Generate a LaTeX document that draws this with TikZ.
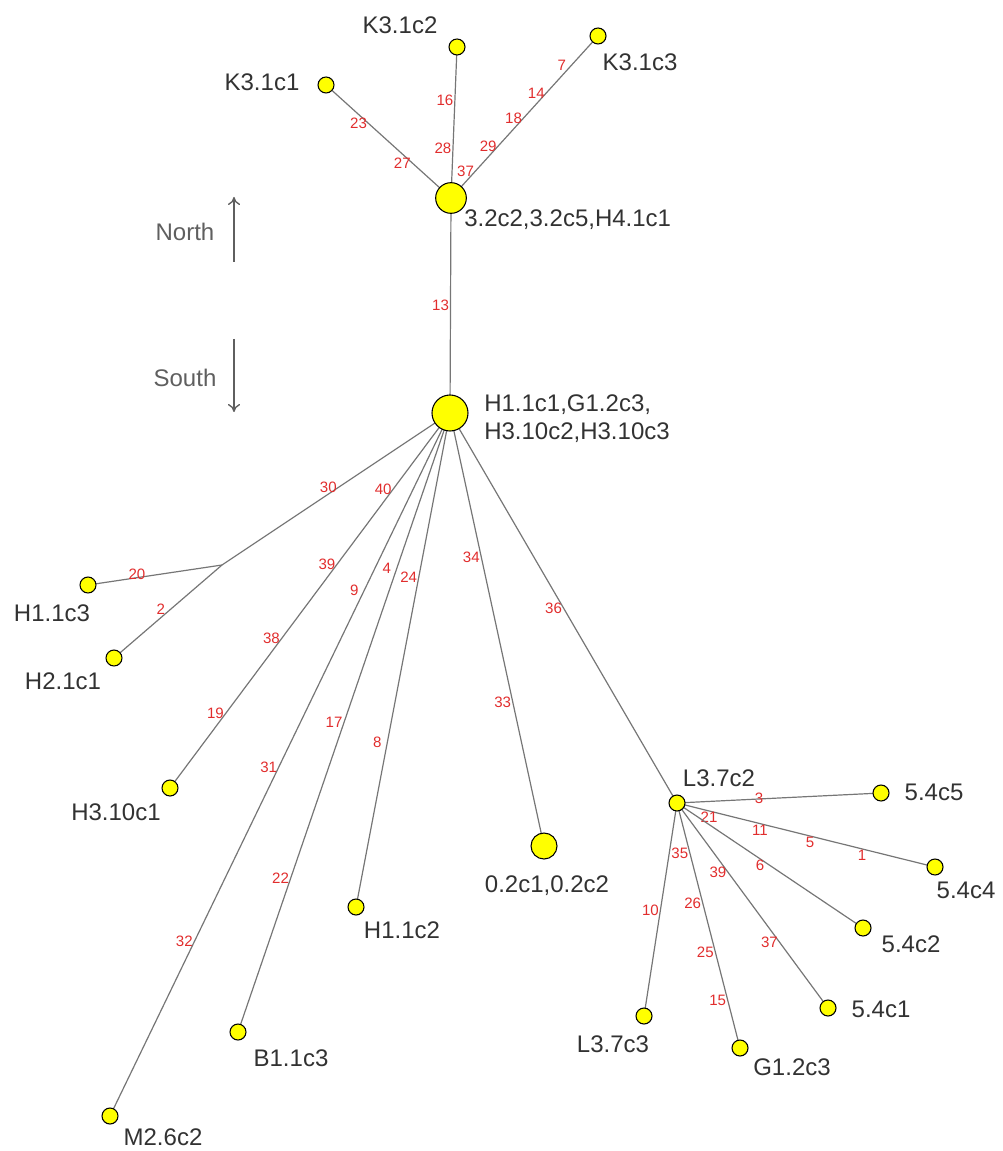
\documentclass[tikz,border=0pt]{standalone}
\usepackage{fontspec}
\setmainfont{Liberation Sans}
\usepackage{xcolor}
\usetikzlibrary{backgrounds,arrows.meta}
\definecolor{strainyellow}{RGB}{255,255,0}
\definecolor{mutred}{RGB}{225,45,45}
\definecolor{linegray}{RGB}{118,118,118}
\definecolor{txtgray}{RGB}{50,50,50}
\definecolor{compgray}{RGB}{95,95,95}

\begin{document}
\begin{tikzpicture}[x=0.75pt,y=-0.75pt,
  strain/.style={circle,draw=black,fill=strainyellow,line width=0.8pt,inner sep=0pt,minimum size=12pt},
  hub/.style={strain,minimum size=23pt},
  edge/.style={draw=linegray,line width=0.9pt},
  elbl/.style={text=mutred,font=\fontsize{11.3}{12}\selectfont,inner sep=0pt,xshift=-7.5pt},
  elbh/.style={elbl,xshift=0pt},
  txt/.style={text=txtgray,font=\fontsize{18}{21}\selectfont,inner sep=0pt},
  compass/.style={txt,text=compgray}]
\useasboundingbox (0,0) rectangle (1002,1151);

% Hubs
\node[hub] (north) at (451,198) {};
\node[hub,minimum size=27pt] (south) at (450,413) {};
\node[txt,anchor=west] (northt) at (464,220) {3.2c2,3.2c5,H4.1c1};
\node[txt,anchor=west,align=left] (southt) at (484,419) {H1.1c1,G1.2c3,\\H3.10c2,H3.10c3};

% North group
\node[strain] (k1) at (326,85) {};
\node[strain] (k2) at (457,47) {};
\node[strain] (k3) at (598,36) {};
\node[txt] (k1t) at (262,82) {K3.1c1};
\node[txt] (k2t) at (400,25) {K3.1c2};
\node[txt] (k3t) at (640,62) {K3.1c3};

% South group, left
\coordinate (fork) at (222,565);
\node[strain] (h113) at (88,585) {};
\node[strain] (h21) at (114,658) {};
\node[strain] (h310) at (170,788) {};
\node[strain] (m26) at (110,1116) {};
\node[strain] (b11) at (238,1032) {};
\node[strain] (h112) at (356,907) {};
\node[strain,minimum size=19.5pt] (o2) at (544,846) {};
\node[txt] (h113t) at (52,613) {H1.1c3};
\node[txt] (h21t) at (63,681) {H2.1c1};
\node[txt] (h310t) at (116,812) {H3.10c1};
\node[txt] (m26t) at (163,1137) {M2.6c2};
\node[txt] (b11t) at (291,1058) {B1.1c3};
\node[txt] (h112t) at (402,930) {H1.1c2};
\node[txt] (o2t) at (547,886) {0.2c1,0.2c2};

% South group, right
\node[strain] (l372) at (677,803) {};
\node[strain] (s5) at (881,793) {};
\node[strain] (s4) at (935,867) {};
\node[strain] (s2) at (863,928) {};
\node[strain] (s1) at (828,1008) {};
\node[strain] (g12) at (740,1048) {};
\node[strain] (l373) at (644,1016) {};
\node[txt] (l372t) at (719,778) {L3.7c2};
\node[txt] (s5t) at (934,792) {5.4c5};
\node[txt] (s4t) at (966,890) {5.4c4};
\node[txt] (s2t) at (911,944) {5.4c2};
\node[txt] (s1t) at (881,1009) {5.4c1};
\node[txt] (g12t) at (792,1067) {G1.2c3};
\node[txt] (l373t) at (613,1044) {L3.7c3};

% North / South arrows
\coordinate (ntail) at (234,262);
\coordinate (nhead) at (234,197);
\coordinate (stail) at (234,339);
\coordinate (shead) at (234,412);
\node[compass] (nlab) at (185,232) {North};
\node[compass] (slab) at (185,378) {South};
\draw[compgray,line width=1pt,-{To[length=6pt,width=9pt]}] (ntail) -- (nhead);
\draw[compgray,line width=1pt,-{To[length=6pt,width=9pt]}] (stail) -- (shead);

% Edges
\begin{scope}[on background layer]
\draw[edge] (north.center) -- node[elbl,pos=.31]{27} node[elbl,pos=.66]{23} (k1.center);
\draw[edge] (north.center) -- node[elbl,pos=.33]{28} node[elbl,pos=.65]{16} (k2.center);
\draw[edge] (north.center) -- node[elbl,pos=.167]{37} node[elbl,pos=.321]{29}
  node[elbl,pos=.494]{18} node[elbl,pos=.648]{14} node[elbl,pos=.821]{7} (k3.center);
\draw[edge] (north.center) -- node[elbl,pos=.5]{13} (south.center);

\draw[edge] (south.center) -- node[elbl,pos=.49]{30} (fork);
\draw[edge] (fork) -- node[elbh,pos=.56,yshift=1.5pt]{20} (h113.center);
\draw[edge] (fork) -- node[elbl,pos=.473]{2} (h21.center);
\draw[edge] (south.center) -- node[elbl,pos=.203]{40} node[elbl,pos=.404]{39}
  node[elbl,pos=.602]{38} node[elbl,pos=.802]{19} (h310.center);
\draw[edge] (south.center) -- node[elbl,pos=.252]{9} node[elbl,pos=.504]{31}
  node[elbl,pos=.752]{32} (m26.center);
\draw[edge] (south.center) -- node[elbl,pos=.251]{4} node[elbl,pos=.5]{17}
  node[elbl,pos=.752]{22} (b11.center);
\draw[edge] (south.center) -- node[elbl,pos=.333]{24} node[elbl,pos=.667]{8} (h112.center);
\draw[edge] (south.center) -- node[elbl,pos=.333]{34} node[elbl,pos=.667]{33} (o2.center);
\draw[edge] (south.center) -- node[elbl,pos=.5]{36} (l372.center);

\draw[edge] (l372.center) -- node[elbh,pos=.451]{3} (s5.center);
\draw[edge] (l372.center) -- node[elbh,pos=.163,yshift=-3pt]{21} node[elbh,pos=.36,yshift=-3pt]{11}
  node[elbh,pos=.554,yshift=-3pt]{5} node[elbh,pos=.756,yshift=-3pt]{1} (s4.center);
\draw[edge] (l372.center) -- node[elbl,pos=.5]{6} (s2.center);
\draw[edge] (l372.center) -- node[elbl,pos=.337]{39} node[elbl,pos=.678]{37} (s1.center);
\draw[edge] (l372.center) -- node[elbl,pos=.204]{35} node[elbl,pos=.408]{26}
  node[elbl,pos=.608]{25} node[elbl,pos=.804]{15} (g12.center);
\draw[edge] (l372.center) -- node[elbl,pos=.502]{10} (l373.center);
\end{scope}
\end{tikzpicture}
\end{document}
